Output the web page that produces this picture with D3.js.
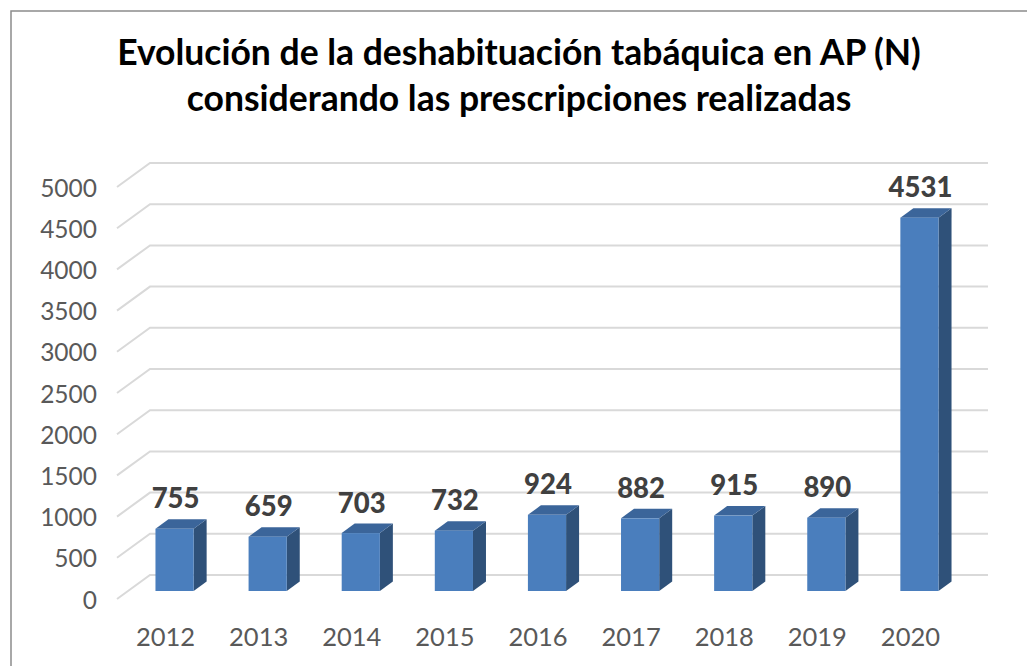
<!DOCTYPE html>
<html>
<head>
<meta charset="utf-8">
<script src="https://cdn.jsdelivr.net/npm/d3@7"></script>
<style>
  body { margin: 0; background: #fff; }
  svg { display: block; }
</style>
</head>
<body>
<div id="chart"></div>
<script>
const years = ["2012", "2013", "2014", "2015", "2016", "2017", "2018", "2019", "2020"];
const values = [755, 659, 703, 732, 924, 882, 915, 890, 4531];
const yTicks = [0, 500, 1000, 1500, 2000, 2500, 3000, 3500, 4000, 4500, 5000];
const titleLines = ["Evolución de la deshabituación tabáquica en AP (N)", "considerando las prescripciones realizadas"];

const W = 1027, H = 666;
const svg = d3.select("#chart").append("svg")
    .attr("width", W)
    .attr("height", H);

// outer frame
svg.append("rect")
    .attr("x", 11).attr("y", 11)
    .attr("width", 1040).attr("height", 700)
    .attr("fill", "none")
    .attr("stroke", "#8c8c8c")
    .attr("stroke-width", 1.5);

// 3d geometry: back wall and depth offsets
const frontX = 117;
const depth = { dx: 33, dy: -24 };        // front floor -> back wall
const barOff = { dx: 11, dy: -8 };        // front floor -> bar front face
const barDepth = { dx: 13, dy: -9.5 };    // bar front -> bar back

const yBack = d3.scaleLinear().domain([0, 5000]).range([575, 163]);
const x = d3.scaleBand().domain(years).range([0, 838]);
const step = x.step();
const barW = step * 0.41;

// gridlines (back wall + left side wall)
const grid = svg.append("g").attr("class", "grid");
yTicks.forEach(t => {
    const yb = yBack(t);
    grid.append("path")
        .attr("d", `M${frontX},${yb - depth.dy} L${frontX + depth.dx},${yb} L${frontX + depth.dx + 838},${yb}`)
        .attr("fill", "none")
        .attr("stroke", "#d9d9d9")
        .attr("stroke-width", 2);
});

// y tick labels
svg.selectAll(".ytick")
    .data(yTicks)
    .enter()
    .append("text")
    .attr("class", "ytick")
    .attr("x", 97)
    .attr("y", d => yBack(d) - depth.dy + 1)
    .attr("dy", "0.35em")
    .attr("text-anchor", "end")
    .style("font-family", "Lato, 'Open Sans', sans-serif")
    .style("font-size", "24.5px")
    .style("fill", "#595959")
    .text(d => d);

// x labels
svg.selectAll(".xtick")
    .data(years)
    .enter()
    .append("text")
    .attr("class", "xtick")
    .attr("x", d => frontX + x(d) + step / 2 + 2)
    .attr("y", 646)
    .attr("text-anchor", "middle")
    .style("font-family", "Lato, 'Open Sans', sans-serif")
    .style("font-size", "25.5px")
    .style("fill", "#595959")
    .text(d => d);

// bars
const data = years.map((y, i) => ({ key: y, value: values[i] }));
const yBar = v => yBack(v) - depth.dy + barOff.dy;

const bars = svg.selectAll(".bar")
    .data(data)
    .enter()
    .append("g")
    .attr("class", "bar");

bars.each(function(d) {
    const g = d3.select(this);
    const x0 = frontX + barOff.dx + x(d.key) + (step - barW) / 2;
    const x1 = x0 + barW;
    const yTop = yBar(d.value);
    const yBot = yBar(0);
    const dx = barDepth.dx, dy = barDepth.dy;
    // side
    g.append("path")
        .attr("d", `M${x1},${yTop} L${x1 + dx},${yTop + dy} L${x1 + dx},${yBot + dy} L${x1},${yBot} Z`)
        .attr("fill", "#2f5179");
    // top
    g.append("path")
        .attr("d", `M${x0},${yTop} L${x0 + dx},${yTop + dy} L${x1 + dx},${yTop + dy} L${x1},${yTop} Z`)
        .attr("fill", "#3b659a");
    // front
    g.append("rect")
        .attr("x", x0)
        .attr("y", yTop)
        .attr("width", barW)
        .attr("height", yBot - yTop)
        .attr("fill", "#4a7ebd");
});

// value labels
svg.selectAll(".val")
    .data(data)
    .enter()
    .append("text")
    .attr("class", "val")
    .attr("x", d => frontX + barOff.dx + x(d.key) + step / 2 + 1)
    .attr("y", d => yBar(d.value) + barDepth.dy - 11)
    .attr("text-anchor", "middle")
    .style("font-family", "Lato, 'Open Sans', sans-serif")
    .style("font-weight", "900")
    .style("font-size", "27.5px")
    .style("fill", "#404040")
    .text(d => d.value);

// title, sized so line 1 spans roughly the same width as the reference
const title = svg.append("g").attr("class", "title");
const t1 = title.append("text")
    .attr("x", 519).attr("y", 65)
    .attr("text-anchor", "middle")
    .style("font-family", "Lato, 'Open Sans', sans-serif")
    .style("font-weight", "bold")
    .style("font-size", "30px")
    .style("fill", "#000")
    .text(titleLines[0]);
const fs = 30 * 804 / t1.node().getComputedTextLength();
t1.style("font-size", fs + "px");
title.append("text")
    .attr("x", 519).attr("y", 111)
    .attr("text-anchor", "middle")
    .style("font-family", "Lato, 'Open Sans', sans-serif")
    .style("font-weight", "bold")
    .style("font-size", fs + "px")
    .style("fill", "#000")
    .text(titleLines[1]);
</script>
</body>
</html>
